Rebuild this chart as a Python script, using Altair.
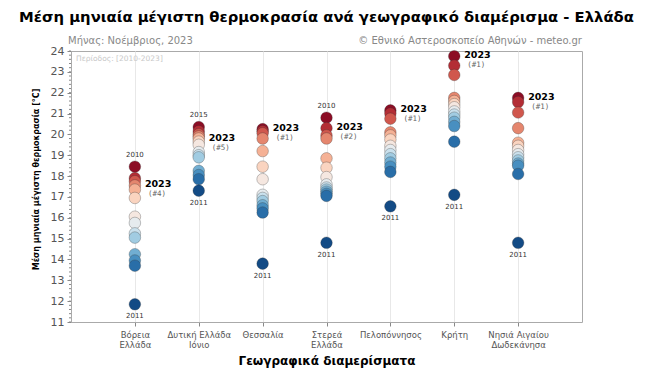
import altair as alt
import pandas as pd

regions = ["Βόρεια Ελλάδα", "Δυτική Ελλάδα Ιόνιο", "Θεσσαλία", "Στερεά Ελλάδα",
           "Πελοπόννησος", "Κρήτη", "Νησιά Αιγαίου Δωδεκάνησα"]
region_lines = [["Βόρεια", "Ελλάδα"], ["Δυτική Ελλάδα", "Ιόνιο"], ["Θεσσαλία"],
                ["Στερεά", "Ελλάδα"], ["Πελοπόννησος"], ["Κρήτη"],
                ["Νησιά Αιγαίου", "Δωδεκάνησα"]]

# November mean max temperature per year 2010-2023 (sorted, high to low)
t_boreia = [18.45, 17.9, 17.75, 17.55, 17.35, 16.95, 16.05, 15.75, 15.25, 15.05, 14.25, 13.95, 13.7, 11.85]
t_dytiki = [20.35, 20.15, 20.0, 19.9, 19.8, 19.65, 19.5, 19.15, 19.0, 18.9, 18.25, 18.05, 17.85, 17.3]
t_thessalia = [20.25, 20.15, 20.05, 19.8, 19.2, 18.45, 17.85, 17.1, 16.95, 16.8, 16.6, 16.45, 16.25, 13.8]
t_sterea = [20.8, 20.3, 19.95, 19.8, 18.85, 18.4, 17.95, 17.6, 17.45, 17.35, 17.25, 17.15, 17.05, 14.8]
t_pelop = [21.15, 21.0, 20.75, 20.1, 19.95, 19.75, 19.45, 19.25, 19.05, 18.85, 18.65, 18.45, 18.2, 16.55]
t_kriti = [23.75, 23.3, 22.85, 21.75, 21.6, 21.45, 21.3, 21.1, 20.95, 20.8, 20.6, 20.4, 19.65, 17.1]
t_nisia = [21.75, 21.55, 21.05, 20.3, 19.6, 19.45, 19.25, 19.05, 18.9, 18.75, 18.6, 18.5, 18.1, 14.8]

top_year = ["2010", "2015", "", "2010", "", "", ""]
bottom_year = ["2011", "2011", "2011", "2011", "2011", "2011", "2011"]
rank_2023 = [4, 5, 1, 2, 1, 1, 1]

y_major = list(range(11, 25))
y_minor = [11 + i / 5 for i in range(66)]

series = [t_boreia, t_dytiki, t_thessalia, t_sterea, t_pelop, t_kriti, t_nisia]

rows = []
for r, vals in zip(regions, series):
    for v in vals:
        rows.append({"region": r, "temp": v})
df = pd.DataFrame(rows)

top_rows, bot_rows, cur_rows = [], [], []
for r, vals, ty, by, rk in zip(regions, series, top_year, bottom_year, rank_2023):
    if ty:
        top_rows.append({"region": r, "temp": max(vals), "label": ty})
    bot_rows.append({"region": r, "temp": min(vals), "label": by})
    cur_rows.append({"region": r, "temp": sorted(vals, reverse=True)[rk - 1],
                     "label": "2023", "rank": f"(#{rk})"})
df_top = pd.DataFrame(top_rows)
df_bot = pd.DataFrame(bot_rows)
df_cur = pd.DataFrame(cur_rows)

FONT = "DejaVu Sans"

label_expr = ""
for name, lines in zip(regions, region_lines):
    arr = "[" + ", ".join(f"'{l}'" for l in lines) + "]"
    label_expr += f"datum.value == '{name}' ? {arr} : "
label_expr += "datum.label"

x_axis = alt.Axis(title="Γεωγραφικά διαμερίσματα", titleFont=FONT,
                  titleFontSize=12, titleFontWeight="bold", titleColor="black",
                  titlePadding=6, labelAngle=0, labelExpr=label_expr,
                  labelFont=FONT, labelFontSize=8.5, labelColor="#555",
                  labelPadding=4, grid=True, gridColor="#e8e8e8",
                  tickColor="#888", tickSize=4, domain=False)
x_scale = alt.Scale(type="point", padding=1)
x_enc = alt.X("region:N", sort=regions, scale=x_scale, axis=x_axis)

y_scale = alt.Scale(domain=[11, 24], nice=False, zero=False)
y_axis = alt.Axis(title="Μέση μηνιαία μέγιστη θερμοκρασία [°C]", titleFont=FONT,
                  titleFontSize=8, titleFontWeight="bold", titleColor="black",
                  titlePadding=10, titleY=128, values=y_major, format="d",
                  labelOverlap=False, labelFont=FONT, labelFontSize=11,
                  labelColor="#555", labelPadding=3, grid=False,
                  tickColor="#888", tickSize=4,
                  domain=True, domainColor="#aaa")
y_enc = alt.Y("temp:Q", scale=y_scale, axis=y_axis)

points = alt.Chart(df).transform_window(
    rank="row_number()", groupby=["region"],
    sort=[alt.SortField("temp", order="descending")]
).mark_circle(size=135, opacity=1, stroke="#333", strokeWidth=0.5, strokeOpacity=0.6).encode(
    x=x_enc, y=y_enc,
    color=alt.Color("rank:Q", scale=alt.Scale(scheme="redblue", domain=[1, 14]), legend=None),
)

# minor ticks on the y axis
minor = alt.Chart(pd.DataFrame({"temp": y_minor})).mark_rule(color="#888", strokeWidth=1).encode(
    y=y_enc, x=alt.value(-2), x2=alt.value(0))

top_lbl = alt.Chart(df_top).mark_text(font=FONT, fontSize=7, color="#333", dy=-12).encode(
    x=x_enc, y=y_enc, text="label:N")
bot_lbl = alt.Chart(df_bot).mark_text(font=FONT, fontSize=7, color="#333", dy=12).encode(
    x=x_enc, y=y_enc, text="label:N")
cur_lbl = alt.Chart(df_cur).mark_text(font=FONT, fontSize=9.5, fontWeight="bold", color="black",
                                      align="left", dx=10, dy=-1).encode(
    x=x_enc, y=y_enc, text="label:N")
rank_lbl = alt.Chart(df_cur).mark_text(font="DejaVu Sans Mono", fontSize=7.5, color="#666",
                                       align="left", dx=13, dy=9).encode(
    x=x_enc, y=y_enc, text="rank:N")

month_txt = alt.Chart(pd.DataFrame({"t": ["Μήνας: Νοέμβριος, 2023"]})).mark_text(
    font=FONT, fontSize=10, color="#888", align="left", baseline="bottom").encode(
    x=alt.value(-3), y=alt.value(-5), text="t:N")
src_txt = alt.Chart(pd.DataFrame({"t": ["© Εθνικό Αστεροσκοπείο Αθηνών - meteo.gr"]})).mark_text(
    font=FONT, fontSize=10, color="#888", align="right", baseline="bottom").encode(
    x=alt.value(511), y=alt.value(-5), text="t:N")
period_txt = alt.Chart(pd.DataFrame({"t": ["Περίοδος: [2010-2023]"]})).mark_text(
    font=FONT, fontSize=7.5, color="#c8c8c8", align="left", baseline="top").encode(
    x=alt.value(5), y=alt.value(4), text="t:N")

chart = alt.layer(points, minor, top_lbl, bot_lbl, cur_lbl, rank_lbl, month_txt, src_txt, period_txt).properties(
    width=511, height=271,
    title=alt.TitleParams("Μέση μηνιαία μέγιστη θερμοκρασία ανά γεωγραφικό διαμέρισμα - Ελλάδα",
                          font=FONT, fontSize=14.8, fontWeight="bold", color="black",
                          anchor="middle", offset=11),
    padding={"left": 71, "top": 51, "right": 68, "bottom": 54},
    autosize=alt.AutoSizeParams(type="none"),
).configure_view(stroke="#aaa", strokeWidth=1).configure_axisY(labelOverlap=False)

chart.save("out.html", embed_options={"renderer": "svg", "actions": False})
